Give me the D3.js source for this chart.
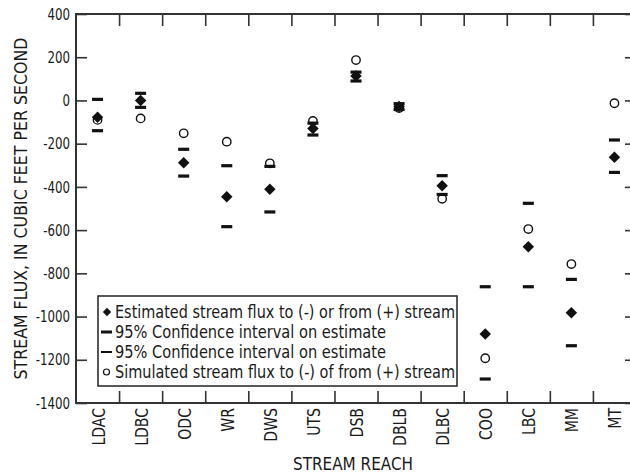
<!DOCTYPE html>
<html><head><meta charset="utf-8">
<script src="https://cdn.jsdelivr.net/npm/d3@7"></script>
<style>
body{margin:0;background:#fff;}
svg{display:block;}
text{font-family:"DejaVu Sans Condensed","Liberation Sans",sans-serif;font-stretch:condensed;fill:#1a1a1a;}
</style></head>
<body>
<script>
const reaches = ["LDAC","LDBC","ODC","WR","DWS","UTS","DSB","DBLB","DLBC","COO","LBC","MM","MT"];
const estimated = [-78, 0, -288, -446, -411, -130, 113, -28, -395, -1081, -677, -982, -263];
const ciUpper   = [5, 33, -226, -302, -305, -105, 131, -15, -348, -862, -476, -828, -183];
const ciLower   = [-140, -32, -350, -584, -516, -160, 90, -42, -435, -1289, -862, -1135, -333];
const simulated = [-90, -83, -152, -191, -291, -95, 187, -35, -455, -1193, -595, -757, -13];
const yTicks = [400,200,0,-200,-400,-600,-800,-1000,-1200,-1400];
const legendLabels = [
  "Estimated stream flux to (-) or from (+) stream",
  "95% Confidence interval on estimate",
  "95% Confidence interval on estimate",
  "Simulated stream flux to (-) of from (+) stream"
];

const W = 630, H = 473;
const L = 76, R = 636, T = 14, B = 403;
const svg = d3.select("body").append("svg").attr("width", W).attr("height", H);

const x = d3.scaleBand().domain(reaches).range([L, R]);
const xi = d3.scaleLinear().domain([0, reaches.length]).range([L, R]);
const y = d3.scaleLinear().domain([-1400, 400]).range([B, T]);
const ink = "#111";

// frame
svg.append("rect").attr("x", L).attr("y", T).attr("width", R - L).attr("height", B - T)
  .attr("fill", "none").attr("stroke", "#333").attr("stroke-width", 2);

// axes
const yAx = svg.append("g").attr("transform", `translate(${L},0)`)
  .call(d3.axisLeft(y).tickValues(yTicks).tickSize(-11).tickSizeOuter(0).tickPadding(6)
    .tickFormat(d => String(d)));
svg.append("g").attr("transform", `translate(${R},0)`)
  .call(d3.axisRight(y).tickValues(yTicks).tickSize(-11).tickSizeOuter(0).tickFormat(""));
const bTicks = d3.range(1, reaches.length);
svg.append("g").attr("transform", `translate(0,${T})`)
  .call(d3.axisTop(xi).tickValues(bTicks).tickSize(-12).tickSizeOuter(0).tickFormat(""));
svg.append("g").attr("transform", `translate(0,${B})`)
  .call(d3.axisBottom(xi).tickValues(bTicks).tickSize(-12).tickSizeOuter(0).tickFormat(""));
svg.selectAll(".domain").remove();
svg.selectAll(".tick line").attr("stroke", "#333").attr("stroke-width", 1.6);
yAx.selectAll("text").style("font-size", "16px").style("font-family", null)
  .attr("fill", "#1a1a1a").attr("x", null).attr("transform", "translate(-6,0) scale(0.82,1)");

// x labels
svg.append("g").selectAll("text").data(reaches).join("text")
  .attr("transform", d => `translate(${x(d) + x.bandwidth()/2 + 7},${B + 5}) rotate(-90) scale(0.92,1.05)`)
  .attr("text-anchor", "end").style("font-size", "17px").text(d => d);

// titles
svg.append("text").attr("transform", `translate(${(L+R)/2 - 3},${H - 3})`)
  .attr("text-anchor", "middle").style("font-size", "17px")
  .attr("textLength", 120).attr("lengthAdjust", "spacingAndGlyphs").text("STREAM REACH");
svg.append("text").attr("transform", `translate(27,${(T+B)/2}) rotate(-90)`)
  .attr("text-anchor", "middle").style("font-size", "18px")
  .attr("textLength", 342).attr("lengthAdjust", "spacingAndGlyphs")
  .text("STREAM FLUX, IN CUBIC FEET PER SECOND");

const cx = (d, i) => x(reaches[i]) + x.bandwidth()/2;
const marks = svg.append("g");
// simulated circles
marks.selectAll("circle.sim").data(simulated).join("circle").attr("class", "sim")
  .attr("cx", cx).attr("cy", d => y(d)).attr("r", 4.2)
  .attr("fill", "#fff").attr("stroke", ink).attr("stroke-width", 1.4);
// CI bars
const barW = 11, barH = 3.2;
marks.selectAll("rect.up").data(ciUpper).join("rect").attr("class", "up")
  .attr("x", (d, i) => cx(d, i) - barW/2).attr("y", d => y(d) - barH/2)
  .attr("width", barW).attr("height", barH).attr("fill", ink);
marks.selectAll("rect.lo").data(ciLower).join("rect").attr("class", "lo")
  .attr("x", (d, i) => cx(d, i) - barW/2).attr("y", d => y(d) - barH/2)
  .attr("width", barW).attr("height", barH).attr("fill", ink);
// estimated diamonds
const dia = d3.symbol().type(d3.symbolDiamond2).size(84);
marks.selectAll("path.est").data(estimated).join("path").attr("class", "est")
  .attr("transform", (d, i) => `translate(${cx(d, i)},${y(d)})`)
  .attr("d", dia).attr("fill", ink);

// legend
const lg = svg.append("g");
lg.append("rect").attr("x", 98).attr("y", 296).attr("width", 359).attr("height", 90)
  .attr("fill", "#fff").attr("stroke", "#222").attr("stroke-width", 1.5);
const lw = [340, 271, 271, 340];
const ly = [318, 338, 358, 378];
lg.selectAll("text").data(legendLabels).join("text")
  .attr("x", 115).attr("y", (d, i) => ly[i]).style("font-size", "18px")
  .attr("textLength", (d, i) => lw[i]).attr("lengthAdjust", "spacingAndGlyphs")
  .text(d => d);
lg.append("path").attr("transform", `translate(107,${ly[0] - 6})`)
  .attr("d", d3.symbol().type(d3.symbolDiamond2).size(44)).attr("fill", ink);
lg.append("rect").attr("x", 101).attr("y", ly[1] - 7.5).attr("width", 11).attr("height", 3).attr("fill", ink);
lg.append("rect").attr("x", 101).attr("y", ly[2] - 7).attr("width", 11).attr("height", 2).attr("fill", ink);
lg.append("circle").attr("cx", 106.5).attr("cy", ly[3] - 6).attr("r", 3)
  .attr("fill", "#fff").attr("stroke", ink).attr("stroke-width", 1.2);
</script>
</body></html>
